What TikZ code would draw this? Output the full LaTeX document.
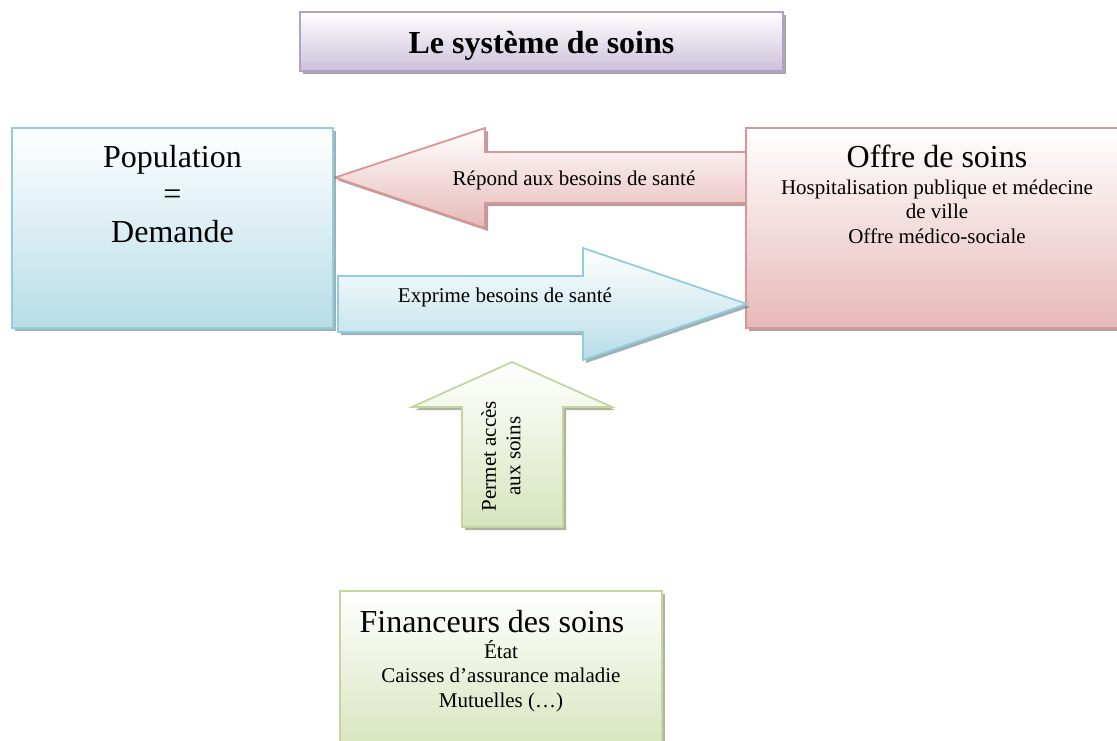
\documentclass[tikz,border=0pt]{standalone}
\usepackage{fontspec}
\setmainfont{Liberation Serif}
\usetikzlibrary{positioning,shadows}

\definecolor{lavline}{HTML}{B2A1C7}
\definecolor{lavfill}{HTML}{CCC1DA}
\definecolor{blueline}{HTML}{93CDDD}
\definecolor{bluefill}{HTML}{B7DDE8}
\definecolor{redline}{HTML}{D99694}
\definecolor{redfill}{HTML}{E6B9B8}
\definecolor{greenline}{HTML}{C3D69B}
\definecolor{greenfill}{HTML}{D7E4BD}

\newcommand{\largetext}{\fontsize{32}{37.5}\selectfont}
\newcommand{\smalltext}{\fontsize{21}{24.5}\selectfont}

\begin{document}
\begin{tikzpicture}[x=1pt,y=-1pt,
  soinbox/.style={draw=#1line, line width=1.8pt, top color=white, bottom color=#1fill,
    inner sep=0pt,
    drop shadow={shadow xshift=3pt, shadow yshift=-3pt, fill=#1line!55!black, opacity=.55}},
  blockarrow/.style={draw=#1line, line width=1.8pt, top color=white, bottom color=#1fill,
    drop shadow={shadow xshift=3pt, shadow yshift=-3pt, fill=#1line!55!black, opacity=.55}},
  lbl/.style={font=\smalltext, inner sep=0pt}]

  \useasboundingbox (0,0) rectangle (1117,740);

  % Nodes
  \node[soinbox=lav, minimum width=483pt, minimum height=59pt] (titre) at (541.5,41.5) {};
  \node[anchor=base, font=\largetext\bfseries, inner sep=0pt] (titre_txt) at ([yshift=-42pt]titre.north) {Le système de soins};

  % Répond aux besoins (under the boxes)
  \path[blockarrow=red] (765,152) -- (485,152) -- (485,128) -- (335,177.5)
    -- (485,228) -- (485,203) -- (765,203) -- cycle;

  \node[soinbox=blue, minimum width=321pt, minimum height=200pt] (population) at (172.5,228) {};
  \node[soinbox=red, minimum width=382pt, minimum height=200pt] (offre) at (937,228) {};
  \node[soinbox=green, minimum width=322pt, minimum height=160pt] (financeurs) at (501,671) {};

  % last line of a node sits on its base
  \node[anchor=base, align=center, font=\largetext, inner sep=0pt] (population_txt) at ([yshift=-115pt]population.north) {Population\\=\\Demande};

  \node[anchor=base, font=\largetext, inner sep=0pt] (offre_titre) at ([yshift=-40pt]offre.north) {Offre de soins};
  \node[lbl, anchor=base, align=center] (offre_detail) at ([yshift=-116pt]offre.north) {Hospitalisation publique et médecine\\de ville\\Offre médico-sociale};

  \node[anchor=base, font=\largetext, inner sep=0pt] (fin_titre) at ([xshift=-9pt,yshift=-42pt]financeurs.north) {Financeurs des soins};
  \node[lbl, anchor=base, align=center] (fin_detail) at ([yshift=-117pt]financeurs.north) {État\\Caisses d’assurance maladie\\Mutuelles (…)};

  % Edges
  \path[blockarrow=blue] (338,276) -- (583,276) -- (583,248) -- (747,304)
    -- (583,360) -- (583,332) -- (338,332) -- cycle;
  \path[blockarrow=green] (462,527) -- (462,407) -- (412,407) -- (512,362)
    -- (612,407) -- (563,407) -- (563,527) -- cycle;

  \node[lbl, anchor=base] (repond) at (574,185) {Répond aux besoins de santé};
  \node[lbl, anchor=base] (exprime) at (505,302) {Exprime besoins de santé};
  \node[lbl, rotate=90, align=center] (permet) at (501,456) {Permet accès\\aux soins};
\end{tikzpicture}
\end{document}
